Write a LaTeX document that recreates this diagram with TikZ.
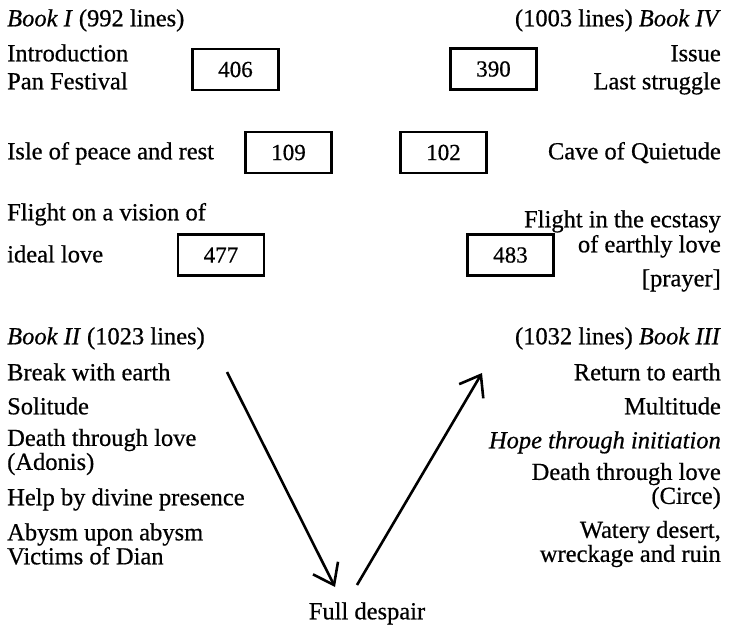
\documentclass[tikz,border=0pt]{standalone}
\usepackage{fontspec}
\setmainfont{Liberation Serif}[UprightFeatures={FakeBold=0.6},ItalicFeatures={FakeBold=0.6}]
\usetikzlibrary{arrows.meta}
\newcommand\tightlines{\lineskiplimit=-50bp\relax}
\begin{document}
\begin{tikzpicture}[x=1bp,y=-1bp,
  txt/.style={inner sep=0pt,font=\fontsize{24.5bp}{24bp}\selectfont\tightlines},
  lt/.style={txt,anchor=mid west,yshift=-4bp},
  rt/.style={txt,anchor=mid east,yshift=-4bp},
  ltt/.style={txt,anchor=west,align=left},
  rtt/.style={txt,anchor=east,align=right},
  numbox/.style={draw,line width=2.3bp,minimum width=86bp,minimum height=41bp,inner sep=0pt,font=\fontsize{23bp}{24bp}\selectfont},
  flow/.style={line width=2.6bp,-{Straight Barb[length=19bp,width=28bp]}}]
\useasboundingbox (0,0) rectangle (729,630);
% Book I
\node[lt] (b1) at (7,20) {\textit{Book I} (992 lines)};
\node[lt] (intro) at (7,55) {Introduction};
\node[lt] (pan) at (7,83) {Pan Festival};
\node[numbox] (n406) at (235.5,69.5) {406};
\node[lt] (isle) at (7,153) {Isle of peace and rest};
\node[numbox] (n109) at (288.5,152.5) {109};
\node[lt] (flight1) at (7,214) {Flight on a vision of};
\node[lt] (ideal) at (7,256) {ideal love};
\node[numbox] (n477) at (221,255) {477};
% Book IV
\node[rt] (b4) at (721,20) {(1003 lines) \textit{Book IV}};
\node[rt] (issue) at (721,55) {Issue};
\node[rt] (last) at (721,83) {Last struggle};
\node[numbox] (n390) at (493.5,69) {390};
\node[rt] (cave) at (721,153) {Cave of Quietude};
\node[numbox] (n102) at (443.5,152.5) {102};
\node[rt] (flight2) at (721,221) {Flight in the ecstasy};
\node[rt] (earthly) at (721,246) {of earthly love};
\node[rt] (prayer) at (721,280) {[prayer]};
\node[numbox] (n483) at (510.5,255) {483};
% Book II
\node[lt] (b2) at (7,338) {\textit{Book II} (1023 lines)};
\node[lt] (break) at (7,374) {Break with earth};
\node[lt] (solitude) at (7,408) {Solitude};
\node[ltt] (death1) at (7,452) {Death through love\\(Adonis)};
\node[lt] (help) at (7,499) {Help by divine presence};
\node[ltt] (abysm) at (7,544) {Abysm upon abysm\\Victims of Dian};
% Book III
\node[rt] (b3) at (721,338) {(1032 lines) \textit{Book III}};
\node[rt] (return) at (721,374) {Return to earth};
\node[rt] (multitude) at (721,408) {Multitude};
\node[rt] (hope) at (721,442) {\textit{Hope through initiation}};
\node[rtt] (death2) at (721,486) {Death through love\\(Circe)};
\node[rtt] (watery) at (721,544) {Watery desert,\\wreckage and ruin};
% bottom
\node[txt,anchor=mid,yshift=-4bp] (despair) at (367,613) {Full despair};
\coordinate (a1s) at (227,372);
\coordinate (a1e) at (335,587);
\coordinate (a2s) at (357,585);
\coordinate (a2e) at (482,373);
\draw[flow] (a1s) -- (a1e);
\draw[flow] (a2s) -- (a2e);
\end{tikzpicture}
\end{document}
